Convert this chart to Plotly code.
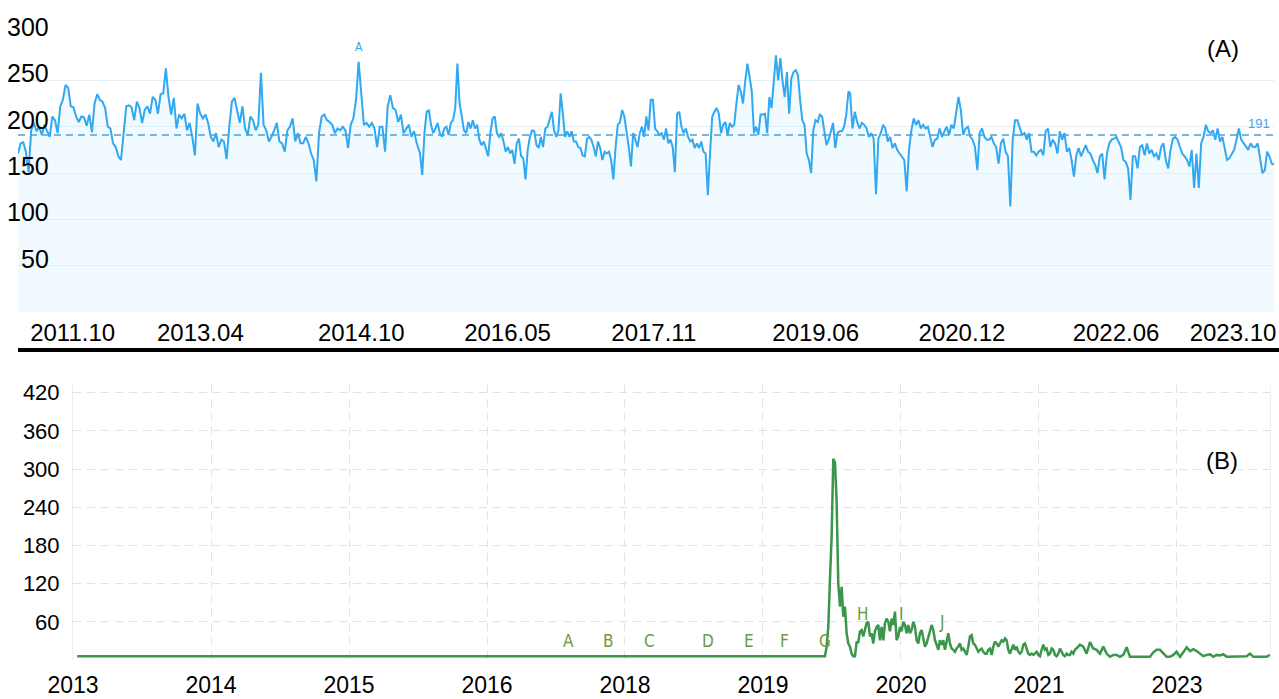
import numpy as np
import plotly.graph_objects as go

# ---------------- Panel A : weekly index (three consecutive stretches) ----------------
a_span_1 = (2011.27, 2015.386)
a_vals_1 = [171,182,183,173,151,196,204,195,200,191,202,196,189,211,207,193,222,229,245,242,
            222,221,211,205,211,210,201,213,194,225,235,229,227,220,200,198,182,178,168,164,
            193,222,223,221,207,227,220,204,218,222,214,232,229,214,235,236,263,232,213,231,
            198,213,209,214,196,204,189,169,225,214,209,213,204,189,184,193,178,186,184,165,
            200,227,231,218,204,222,198,191,211,207,196,202,258,202,196,184,189,196,204,184,
            182,173,196,200,209,184,193,182,182,189,182,171,164,141,193,211,213,207,205,202,
            193,198,196,200,196,177,202,209,229,270,232,202,204,200,204,198,178,200,200,173,
            222,234,220,218,205,213,193,198,202,189,195,182,173]
a_span_2 = (2015.393, 2019.786)
a_vals_2 = [171,148,193,216,218,202,193,198,204,193,189,198,200,191,204,207,220,268,225,211,
            196,193,205,198,207,198,202,186,180,184,175,168,193,209,211,193,189,193,184,173,
            178,171,175,160,182,187,168,166,143,175,189,196,195,180,177,189,178,198,200,207,
            216,196,189,196,236,214,189,195,189,195,184,184,178,177,169,168,187,189,186,178,
            168,184,177,164,173,171,173,164,143,178,202,205,218,211,196,178,157,193,186,178,
            193,200,189,211,196,229,229,198,195,191,193,186,198,182,186,178,151,214,216,200,
            193,198,189,184,186,177,182,177,184,173,171,126,171,211,216,220,214,193,202,205,
            191,204,200,202,225,245,238,225,249,268,254,238,193,200,191,213,213,214,193,232,
            220,254,277,250,274,249,232,259,214,252,259,261,256,229,207,202,171,164,150,196,
            207,205,213,211,196,180,186,196,204,177,193,195,195,200,213,238]
a_span_3 = (2019.803, 2024.152)
a_vals_3 = [236,198,216,205,198,204,202,198,189,193,187,127,187,193,202,198,184,189,177,182,
            175,171,168,164,130,175,196,209,202,207,198,202,198,200,189,178,186,187,198,189,
            195,200,191,202,198,213,232,218,191,198,200,189,186,178,153,193,198,189,186,186,
            189,182,178,160,182,187,173,168,114,186,207,207,200,191,193,186,193,173,173,169,
            173,175,169,195,198,178,186,182,171,195,186,193,173,177,164,146,169,177,168,175,
            180,173,171,164,159,150,168,171,143,171,182,186,187,189,184,178,164,162,155,121,
            168,168,155,178,180,169,182,171,175,168,171,164,178,182,164,155,175,187,189,186,
            178,171,168,164,157,175,134,171,134,182,189,202,195,193,196,186,198,184,189,175,
            164,166,171,175,186,198,186,182,178,175,182,178,178,182,166,150,153,173,168,160,159]
a_average = 191
a_tick_vals = [2011.83, 2013.14, 2014.79, 2016.29, 2017.79, 2019.45, 2020.95, 2022.53, 2023.73]
a_tick_text = ["2011.10", "2013.04", "2014.10", "2016.05", "2017.11", "2019.06", "2020.12", "2022.06", "2023.10"]
a_y_ticks = [50, 100, 150, 200, 250, 300]

# ---------------- Panel B ----------------
b_flat_start = (0.03, 6)
b_span_2 = (5.449, 7.297)
b_vals_2 = [6,21,52,126,194,316,310,250,120,84,115,68,84,42,26,21,10,6,6,28,
            28,45,47,37,50,58,60,37,42,26,45,52,55,31,52,31,58,65,60,45,
            65,55,76,31,37,52,45,60,55,42,55,42,47,60,52,31,26,42,47,31,
            21,26,37,47,55,47,31,24,16,31,24,31,16,29,42,26,18,16,13,18,
            21,26,16,18,13,8,21,37,39,26,24,18,13,16,18,13,10,10,16,18,
            8,21,29,26,21,26,31,29,34,31,16,10,18,24,16,21,13,10,13,24,
            26,16,10,8,10,8,10,13,8,6,16,24,16,18,8,10,18,16,8,6,
            10,18,13,8,6,10,8,8,13,10,16,18,21,24]
b_span_3 = (7.321, 8.674)
b_vals_3 = [21,10,28,18,16,10,21,10,5,8,8,5,8,20,5,5,5,5,5,5,
            5,12,16,16,10,5,5,8,13,5,12,20,14,17,14,10,6,8,9,5,
            8,7,9,5,5,5,5,5,5,6,10,5,5,5,5,5,8]
b_tick_text = ["2013", "2014", "2015", "2016", "2018", "2019", "2020", "2021", "2023"]
b_y_ticks = [60, 120, 180, 240, 300, 360, 420]
b_event_labels = ["A", "B", "C", "D", "E", "F", "G", "H", "I", "J"]
b_event_x = [3.594, 3.884, 4.174, 4.601, 4.899, 5.159, 5.449, 5.725, 6.007, 6.297]
b_event_y = [30, 30, 30, 30, 30, 30, 30, 72, 72, 60]

# ------------- build series -------------
a_x = np.concatenate([np.linspace(*a_span_1, len(a_vals_1)),
                      np.linspace(*a_span_2, len(a_vals_2)),
                      np.linspace(*a_span_3, len(a_vals_3))])
a_y = a_vals_1 + a_vals_2 + a_vals_3
b_x = np.concatenate([[b_flat_start[0]],
                      np.linspace(*b_span_2, len(b_vals_2)),
                      np.linspace(*b_span_3, len(b_vals_3))])
b_y = [b_flat_start[1]] + b_vals_2 + b_vals_3

W, H = 1279, 699
FONT = "Liberation Sans, Arial, Helvetica, sans-serif"
NARROW = "Liberation Sans Narrow, Arial Narrow, DejaVu Sans Condensed, sans-serif"
BLUE = "#31a8f2"
GREEN = "#3a964a"
OLIVE = "#6b9b3e"

fig = go.Figure()
fig.add_trace(go.Scatter(x=a_x, y=a_y, mode="lines", line=dict(color=BLUE, width=2),
                         fill="tozeroy", fillcolor="rgba(215,242,252,0.35)",
                         xaxis="x", yaxis="y", hoverinfo="skip", showlegend=False))
fig.add_trace(go.Scatter(x=b_x, y=b_y, mode="lines", line=dict(color=GREEN, width=2.5),
                         xaxis="x2", yaxis="y2", hoverinfo="skip", showlegend=False))

fig.update_layout(
    width=W, height=H, margin=dict(l=0, r=0, t=0, b=0, autoexpand=False),
    paper_bgcolor="white", plot_bgcolor="white",
    font=dict(family=FONT, color="black"),
    xaxis=dict(domain=[18 / W, 1274 / W], range=[2011.27, 2024.15], anchor="y", automargin=False,
               tickvals=a_tick_vals, ticktext=a_tick_text, showgrid=False, zeroline=False,
               showline=False, ticks="", tickfont=dict(size=24, family=FONT, color="black"),
               ticklabelstandoff=4),
    yaxis=dict(domain=[(H - 312) / H, (H - 34) / H], range=[0, 300], anchor="x", automargin=False,
               tickvals=a_y_ticks, showticklabels=False, showgrid=True,
               gridcolor="rgb(228,239,245)", gridwidth=1, zeroline=False, showline=False, ticks=""),
    xaxis2=dict(domain=[73 / W, 1270 / W], range=[0, 8.674], anchor="y2", automargin=False,
                tickvals=list(range(len(b_tick_text))), ticktext=b_tick_text,
                showgrid=True, gridcolor="#e2e2e2", griddash="8px,6px", gridwidth=1,
                zeroline=False, showline=False, ticks="",
                tickfont=dict(size=23, family=FONT, color="black"), ticklabelstandoff=9),
    yaxis2=dict(domain=[(H - 660) / H, (H - 385) / H], range=[0, 432], anchor="x2", automargin=False,
                tickvals=b_y_ticks, showgrid=True, gridcolor="#e2e2e2", griddash="8px,6px",
                zeroline=False, showline=True, linecolor="#eeeeee", linewidth=1, mirror=True,
                ticks="", tickfont=dict(size=22, family=FONT, color="black"), ticklabelstandoff=8),
)

shapes = [
    dict(type="line", xref="x domain", yref="y", x0=0, x1=1, y0=a_average, y1=a_average,
         line=dict(color="#4aa2d2", width=1.5, dash="7px,5px")),
    dict(type="line", xref="paper", yref="paper", x0=18 / W, x1=1, y0=(H - 350) / H, y1=(H - 350) / H,
         line=dict(color="black", width=4)),
]
fig.update_layout(shapes=shapes)

ann = []
for v in a_y_ticks:
    ann.append(dict(xref="paper", x=51 / W, xanchor="right", yref="y", y=v, yanchor="middle",
                    yshift=7, text=str(v), showarrow=False,
                    font=dict(size=25, family=FONT, color="black")))
ann.append(dict(xref="paper", x=1272 / W, xanchor="right", yref="y", y=a_average, yanchor="bottom",
                yshift=2, text=str(a_average), showarrow=False,
                font=dict(size=13, family=FONT, color="#3aa6ee")))
peak_i = int(np.argmax(a_vals_1))
ann.append(dict(xref="x", x=a_x[peak_i], yref="y", y=a_vals_1[peak_i], yanchor="bottom",
                yshift=6, text="A", showarrow=False,
                font=dict(size=12, family=NARROW, color=BLUE)))
ann.append(dict(xref="paper", x=1223 / W, xanchor="center", yref="paper", y=(H - 48) / H,
                yanchor="middle", text="(A)", showarrow=False,
                font=dict(size=24, family=FONT, color="black")))
ann.append(dict(xref="paper", x=1222 / W, xanchor="center", yref="paper", y=(H - 460) / H,
                yanchor="middle", text="(B)", showarrow=False,
                font=dict(size=24, family=FONT, color="black")))
for lab, ex, ey in zip(b_event_labels, b_event_x, b_event_y):
    ann.append(dict(xref="x2", x=ex, yref="y2", y=ey, xanchor="center", yanchor="middle",
                    text=lab, showarrow=False,
                    font=dict(size=17, family=NARROW, color=OLIVE)))
fig.update_layout(annotations=ann)

fig.write_html("out.html", config={"displayModeBar": False},
               post_script="document.body.style.margin='0px';document.body.style.overflow='hidden';")
